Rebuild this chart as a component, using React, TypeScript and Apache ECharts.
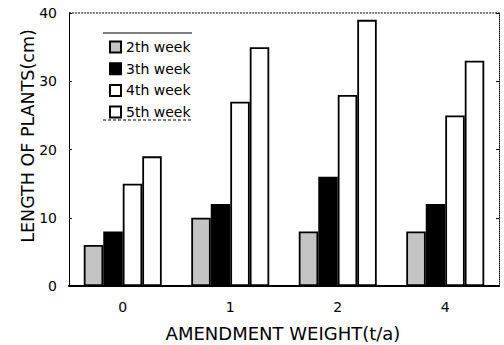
import React, { useEffect, useRef } from "react";
import * as echarts from "echarts";

const categories = ["0", "1", "2", "4"];
const seriesNames = ["2th week", "3th week", "4th week", "5th week"];
const week2 = [6, 10, 8, 8];
const week3 = [8, 12, 16, 12];
const week4 = [15, 27, 28, 25];
const week5 = [19, 35, 39, 33];
const yTicks = [0, 10, 20, 30, 40];

const FONT = "DejaVu Sans";

export default function App() {
  const ref = useRef<HTMLDivElement>(null);
  useEffect(() => {
    if (!ref.current) return;
    const chart = echarts.init(ref.current, undefined, { renderer: "svg" });
    const fills = ["#c4c4c4", "#000000", "#ffffff", "#ffffff"];
    const values = [week2, week3, week4, week5];
    chart.setOption({
      animation: false,
      backgroundColor: "#ffffff",
      grid: { left: 69, right: 5, top: 13, bottom: 59, containLabel: false },
      legend: {
        orient: "vertical",
        left: 104,
        top: 35,
        itemWidth: 11,
        itemHeight: 11,
        itemGap: 7.7,
        icon: "rect",
        textStyle: { fontFamily: FONT, fontSize: 14, color: "#000" },
        data: seriesNames,
      },
      xAxis: {
        type: "category",
        data: categories,
        axisLine: { show: true, lineStyle: { color: "#000", width: 2 } },
        axisTick: { show: false },
        axisLabel: { fontFamily: FONT, fontSize: 14, color: "#000", margin: 14 },
      },
      yAxis: [
        {
          type: "value",
          min: yTicks[0],
          max: yTicks[yTicks.length - 1],
          interval: 10,
          axisLine: { show: true, lineStyle: { color: "#000", width: 1 } },
          axisTick: { show: true, inside: true, length: 3, lineStyle: { color: "#000" } },
          splitLine: { show: false },
          axisLabel: { fontFamily: FONT, fontSize: 14, color: "#000", margin: 12 },
        },
        {
          type: "value",
          position: "right",
          min: yTicks[0],
          max: yTicks[yTicks.length - 1],
          interval: 10,
          axisLine: { show: true, lineStyle: { color: "#000", width: 1, type: "dotted" } },
          axisTick: { show: true, inside: true, length: 3, lineStyle: { color: "#000" } },
          splitLine: { show: false },
          axisLabel: { show: false },
        },
      ],
      series: seriesNames.map((name, i) => ({
        name,
        type: "bar",
        yAxisIndex: 0,
        data: values[i],
        barWidth: 19.5,
        barGap: "0%",
        itemStyle: { color: fills[i], borderColor: "#000", borderWidth: 1.8 },
      })),
      graphic: [
        {
          type: "line",
          shape: { x1: 69, y1: 13, x2: 499, y2: 13 },
          style: { stroke: "#000", lineWidth: 1, lineDash: [2, 1] },
          silent: true,
        },
        {
          type: "line",
          shape: { x1: 103, y1: 33, x2: 192, y2: 33 },
          style: { stroke: "#000", lineWidth: 1 },
          silent: true,
        },
        {
          type: "line",
          shape: { x1: 103, y1: 120, x2: 192, y2: 120 },
          style: { stroke: "#000", lineWidth: 1, lineDash: [3, 2] },
          silent: true,
        },
        {
          type: "text",
          x: 283,
          y: 333,
          style: {
            text: "AMENDMENT WEIGHT(t/a)",
            fontFamily: FONT,
            fontSize: 18,
            fill: "#000",
            align: "center",
            verticalAlign: "middle",
          },
          silent: true,
        },
        {
          type: "text",
          x: 28,
          y: 136,
          rotation: Math.PI / 2,
          style: {
            text: "LENGTH OF PLANTS(cm)",
            fontFamily: FONT,
            fontSize: 17.5,
            fill: "#000",
            align: "center",
            verticalAlign: "middle",
          },
          silent: true,
        },
      ],
    });
    return () => chart.dispose();
  }, []);
  return <div ref={ref} style={{ width: 504, height: 345, position: "absolute", left: 0, top: 0 }} />;
}
